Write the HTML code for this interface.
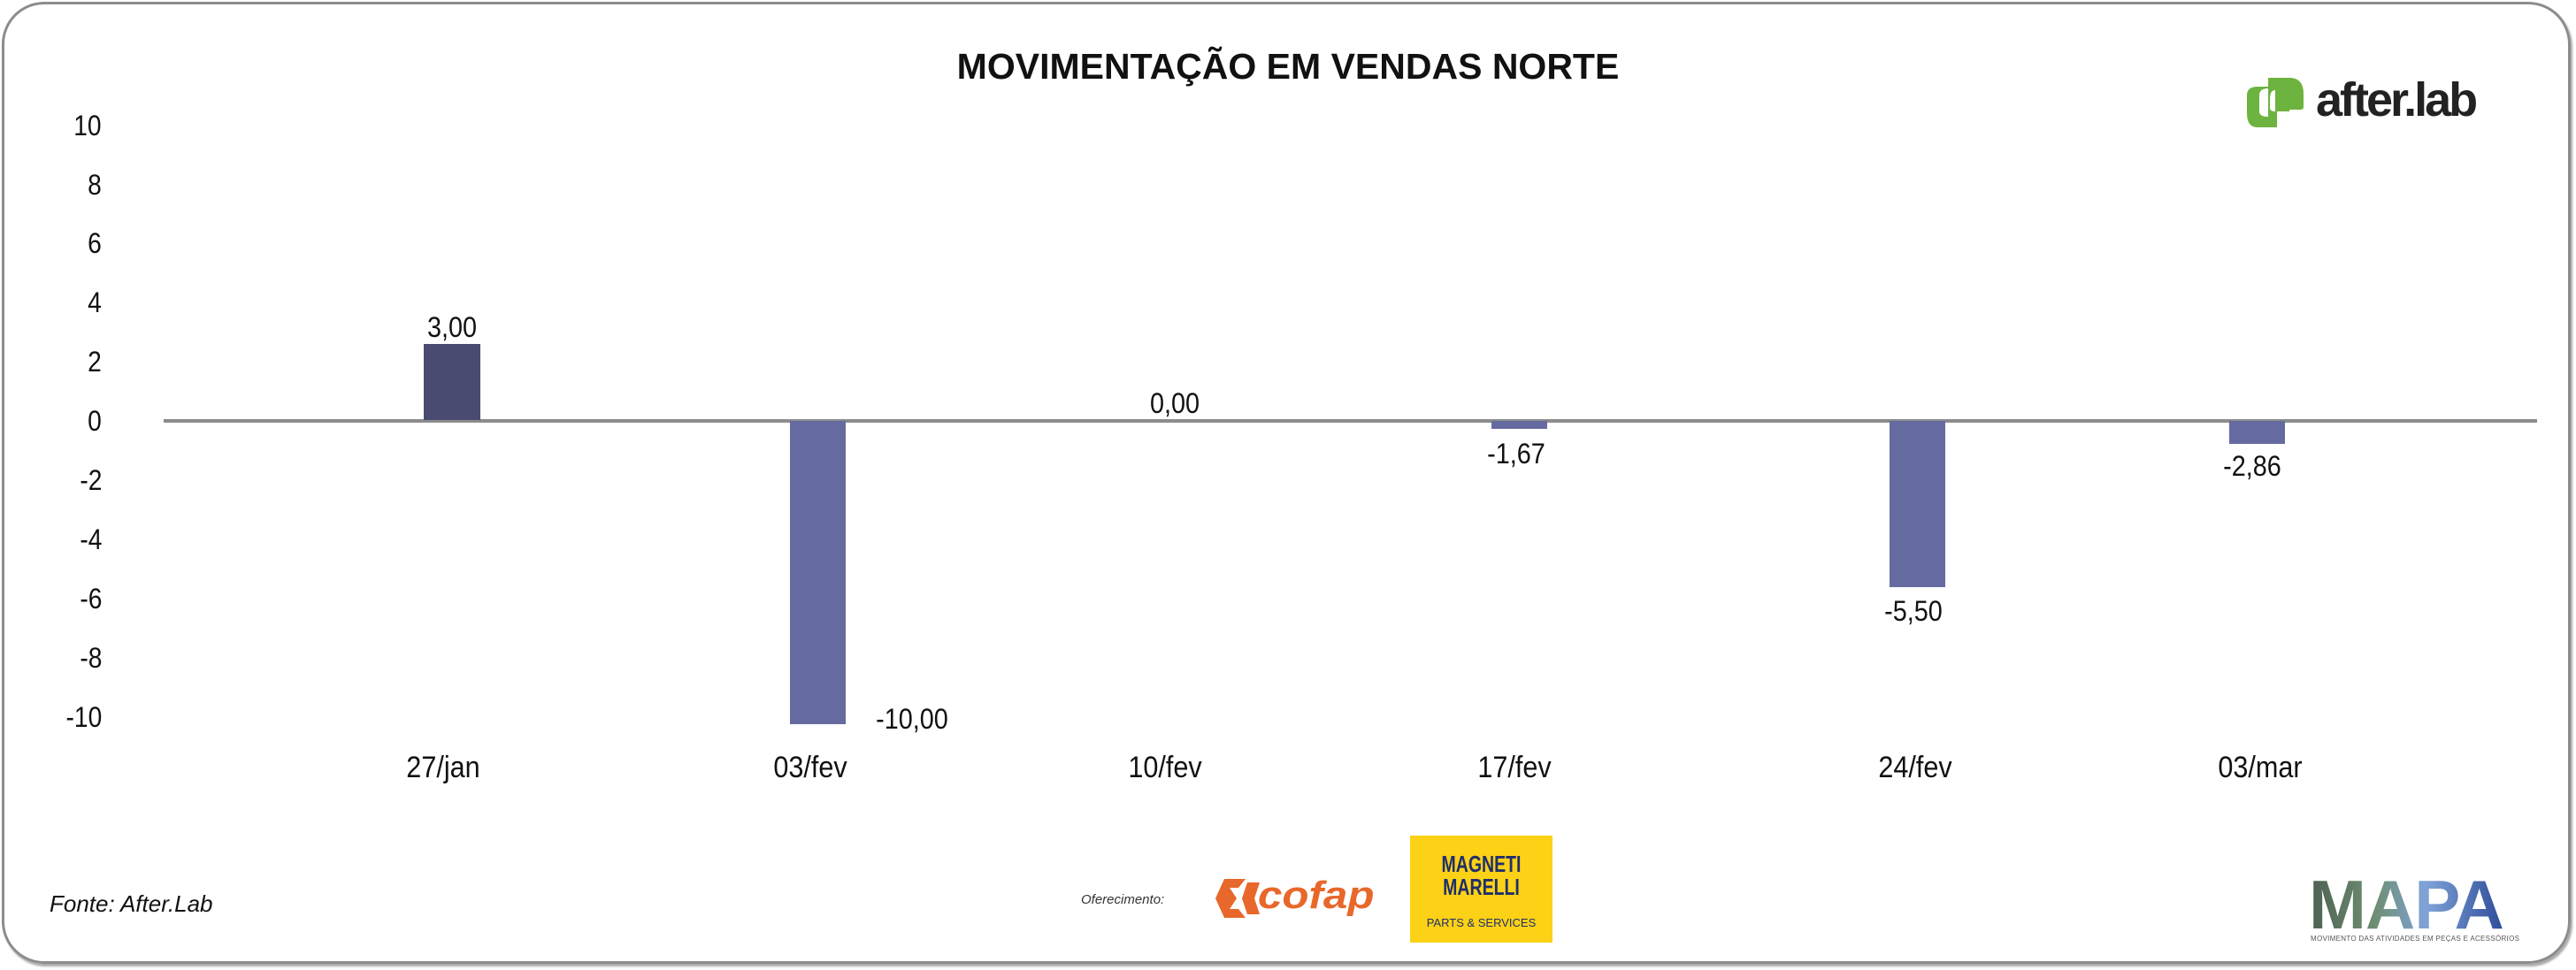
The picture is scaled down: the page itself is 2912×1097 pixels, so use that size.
<!DOCTYPE html>
<html><head><meta charset="utf-8">
<style>
html,body{margin:0;padding:0;background:#fff;}
#c{position:relative;width:2912px;height:1097px;overflow:hidden;background:#fff;font-family:"Liberation Sans Narrow","Liberation Sans",sans-serif;}
.frame{position:absolute;left:2px;top:2px;width:2904px;height:1088px;border:3px solid #8c8c8c;border-radius:48px;box-sizing:border-box;box-shadow:2px 3px 2px #aaa;}
.t{position:absolute;white-space:nowrap;color:#111;}
.yl{position:absolute;right:2797px;font-size:32px;line-height:32px;color:#111;transform:scaleX(.88);transform-origin:right center;}
.xl{position:absolute;font-size:34px;line-height:34px;width:200px;text-align:center;color:#111;transform:scaleX(.9);}
.dl{position:absolute;font-size:32px;line-height:32px;width:160px;text-align:center;color:#111;transform:scaleX(.9);}
.bar{position:absolute;background:#656aa0;}
</style></head><body>
<div id="c">
<div class="frame"></div>
<div class="t" style="left:0;width:2912px;text-align:center;top:52px;font-family:'Liberation Sans',sans-serif;font-weight:bold;font-size:41px;">MOVIMENTAÇÃO EM VENDAS NORTE</div>

<!-- after.lab logo -->
<svg style="position:absolute;left:2536px;top:86px" width="80" height="60" viewBox="0 0 80 60">
<path d="M28 2 H52 Q68 2 68 20 V35 Q68 38 64 38 H52 V2" fill="#6db33f"/>
<path d="M28 2 V14 Q18 14 18 22 V40 Q18 46 28 46 V58 H16 Q4 58 4 42 V22 Q4 12 16 12 H28Z" fill="#6db33f"/>
<rect x="28" y="2" width="24" height="56" fill="#6db33f"/>
<path d="M36 16 Q30 16 30 26 V36 Q30 40 36 40Z" fill="#fff"/>
<rect x="38" y="40" width="14" height="18" fill="#fff"/>
</svg>
<div class="t" style="left:2618px;top:82px;font-family:'Liberation Sans',sans-serif;font-weight:bold;font-size:54px;letter-spacing:-3px;color:#222;">after.lab</div>

<!-- y labels -->
<div class="yl" style="top:126px">10</div>
<div class="yl" style="top:193px">8</div>
<div class="yl" style="top:259px">6</div>
<div class="yl" style="top:326px">4</div>
<div class="yl" style="top:393px">2</div>
<div class="yl" style="top:460px">0</div>
<div class="yl" style="top:527px">-2</div>
<div class="yl" style="top:594px">-4</div>
<div class="yl" style="top:661px">-6</div>
<div class="yl" style="top:728px">-8</div>
<div class="yl" style="top:795px">-10</div>

<!-- axis -->
<div style="position:absolute;left:185px;top:474px;width:2683px;height:4px;background:#8c8c8c"></div>

<!-- bars -->
<div class="bar" style="left:479px;top:389px;width:64px;height:86px;background:#4a4b70"></div>
<div class="bar" style="left:893px;top:476px;width:63px;height:343px"></div>
<div class="bar" style="left:1686px;top:476px;width:63px;height:9px"></div>
<div class="bar" style="left:2136px;top:476px;width:63px;height:188px"></div>
<div class="bar" style="left:2520px;top:476px;width:63px;height:26px"></div>

<!-- data labels -->
<div class="dl" style="left:431px;top:354px">3,00</div>
<div class="dl" style="left:951px;top:797px">-10,00</div>
<div class="dl" style="left:1248px;top:440px">0,00</div>
<div class="dl" style="left:1634px;top:497px">-1,67</div>
<div class="dl" style="left:2083px;top:675px">-5,50</div>
<div class="dl" style="left:2466px;top:511px">-2,86</div>

<!-- x labels -->
<div class="xl" style="left:401px;top:851px">27/jan</div>
<div class="xl" style="left:816px;top:851px">03/fev</div>
<div class="xl" style="left:1217px;top:851px">10/fev</div>
<div class="xl" style="left:1612px;top:851px">17/fev</div>
<div class="xl" style="left:2065px;top:851px">24/fev</div>
<div class="xl" style="left:2455px;top:851px">03/mar</div>

<!-- footer -->
<div class="t" style="left:56px;top:1007px;font-family:'Liberation Sans',sans-serif;font-style:italic;font-size:26px;">Fonte: After.Lab</div>
<div class="t" style="left:1222px;top:1009px;font-family:'Liberation Sans',sans-serif;font-style:italic;font-size:15px;color:#333;">Oferecimento:</div>
<svg style="position:absolute;left:1374px;top:994px" width="50" height="44" viewBox="0 0 50 44">
<polygon points="10,0 34,0 26,10 16,10 24,22 16,34 26,34 34,44 10,44 0,22" fill="#e8672a"/>
<polygon points="36,4 50,4 44,22 50,40 36,40 30,22" fill="#e8672a"/>
</svg>
<div class="t" style="left:1422px;top:988px;font-family:'Liberation Sans',sans-serif;font-weight:bold;font-style:italic;font-size:44px;color:#e8672a;letter-spacing:0px;transform:scaleX(1.12);transform-origin:left center;">cofap</div>
<div style="position:absolute;left:1594px;top:945px;width:161px;height:121px;background:#fcd116"></div>
<div class="t" style="left:1594px;top:964px;width:161px;text-align:center;font-family:'Liberation Sans',sans-serif;font-weight:bold;font-size:26px;line-height:26px;color:#1f2f6b;transform:scaleX(.75);">MAGNETI<br>MARELLI</div>
<div class="t" style="left:1594px;top:1036px;width:161px;text-align:center;font-family:'Liberation Sans',sans-serif;font-size:13px;color:#1f2f6b;">PARTS &amp; SERVICES</div>

<div class="t" style="left:2610px;top:984px;font-family:'Liberation Sans',sans-serif;font-weight:bold;font-size:78px;line-height:78px;letter-spacing:-1px;background:linear-gradient(90deg,#4d6050,#6f8f74 35%,#7fa3d8 60%,#2f4d9a);-webkit-background-clip:text;background-clip:text;color:transparent;">MAPA</div>
<div class="t" style="left:2612px;top:1057px;font-family:'Liberation Sans',sans-serif;font-size:8px;letter-spacing:0.3px;color:#555;">MOVIMENTO DAS ATIVIDADES EM PEÇAS E ACESSÓRIOS</div>
</div>
</body></html>
